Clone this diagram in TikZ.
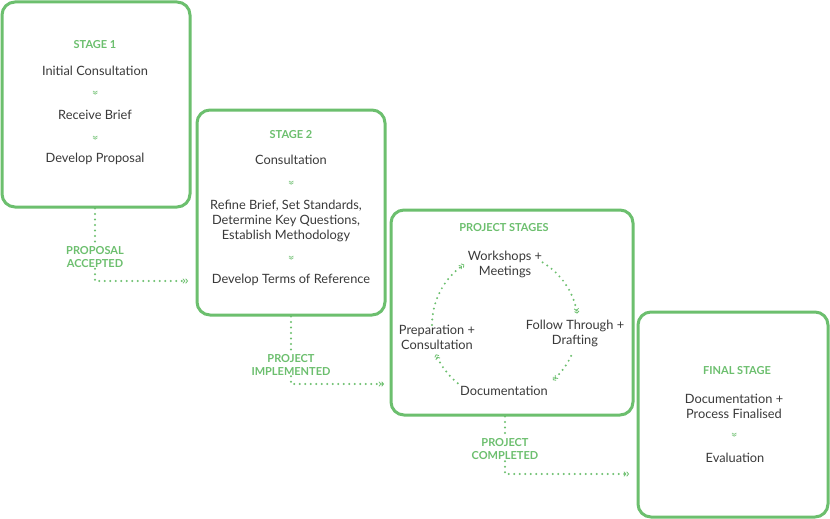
\documentclass[tikz,border=0pt]{standalone}
\usepackage{fontspec}
\setmainfont{Lato}
\usetikzlibrary{arrows.meta}
\definecolor{leaf}{HTML}{6CBF6E}
\definecolor{ink}{HTML}{3A3A3A}

\begin{document}
\begin{tikzpicture}[
        x=1pt, y=-1pt,
        stagebox/.style={draw=leaf, line width=3pt, rounded corners=13pt, inner sep=0pt},
        entry/.style={text=ink, align=center, font=\fontsize{12.8}{15}\selectfont, inner sep=1pt},
        head/.style={text=leaf, align=center, font=\fontsize{11}{13}\selectfont\bfseries, inner sep=1pt},
        chev/.style={text=leaf, font=\fontsize{12}{12}\selectfont, inner sep=0pt, rotate=-90},
        link/.style={draw=leaf, line width=2.2pt, line cap=round, dash pattern=on 0pt off 5.5pt,
            -{Straight Barb[length=1.8pt,width=4.5pt,line width=0.8pt] Straight Barb[length=1.8pt,width=4.5pt,line width=0.8pt]}}
        ]
        \fill[white] (0,0) rectangle (830,519);
        \useasboundingbox (0,0) rectangle (830,519);

        % stage boxes
        \node[stagebox, minimum width=188pt, minimum height=205pt] (s1) at (96,104.5) {};
        \node[stagebox, minimum width=188pt, minimum height=205pt] (s2) at (291,212.5) {};
        \node[stagebox, minimum width=242pt, minimum height=205pt] (s3) at (512,312.5) {};
        \node[stagebox, minimum width=190pt, minimum height=205pt] (s4) at (733,414.5) {};

        % stage 1
        \node[head] (h1) at (95,45) {STAGE 1};
        \node[entry] (init) at (95,71) {Initial Consultation};
        \node[chev] (v1) at (95,93) {»};
        \node[entry] (brief) at (95,115) {Receive Brief};
        \node[chev] (v2) at (95,138) {»};
        \node[entry] (prop) at (95,159) {Develop Proposal};

        % stage 2
        \node[head] (h2) at (291,135) {STAGE 2};
        \node[entry] (cons) at (291,160) {Consultation};
        \node[chev] (v3) at (291,183) {»};
        \node[entry] (refine) at (286,220.5) {Refine Brief, Set Standards,\\Determine Key Questions,\\Establish Methodology};
        \node[chev] (v4) at (291,258) {»};
        \node[entry] (terms) at (291,280) {Develop Terms of Reference};

        % project stages
        \node[head] (h3) at (504,228) {PROJECT STAGES};
        \node[entry] (work) at (505,264) {Workshops +\\Meetings};
        \node[entry] (follow) at (575,333.5) {Follow Through +\\Drafting};
        \node[entry] (doc) at (504,391) {Documentation};
        \node[entry] (prep) at (437,337.5) {Preparation +\\Consultation};
        \coordinate (cyc) at (505,325);

        % final stage
        \node[head] (h4) at (737,371) {FINAL STAGE};
        \node[entry] (fin) at (734,406) {Documentation +\\Process Finalised};
        \node[chev] (v5) at (734,435) {»};
        \node[entry] (eval) at (735,458) {Evaluation};

        % labels between stages
        \node[head] (acc) at (95,257) {PROPOSAL\\ACCEPTED};
        \node[head] (imp) at (291,364.5) {PROJECT\\IMPLEMENTED};
        \node[head] (done) at (505,449.5) {PROJECT\\COMPLETED};
        \coordinate (c1) at (188,281);
        \coordinate (c2) at (384,384);
        \coordinate (c3) at (629,474);

        \draw[link, -] (acc.north |- s1.south) -- (acc.north);
        \draw[link] (acc.south) |- (c1);
        \draw[link, -] (imp.north |- s2.south) -- (imp.north);
        \draw[link] (imp.south) |- (c2);
        \draw[link, -] (done.north |- s3.south) -- (done.north);
        \draw[link] (done.south) |- (c3);

        % cycle
        \draw[link] ([shift={(180:73pt)}]cyc) arc[start angle=180, end angle=124, radius=73pt];
        \draw[link] ([shift={(59:73pt)}]cyc) arc[start angle=59, end angle=9, radius=73pt];
        \draw[link] ([shift={(-25:73pt)}]cyc) arc[start angle=-25, end angle=-49, radius=73pt];
        \draw[link] ([shift={(-129:75pt)}]cyc) arc[start angle=-129, end angle=-157, radius=75pt];
    \end{tikzpicture}
\end{document}
